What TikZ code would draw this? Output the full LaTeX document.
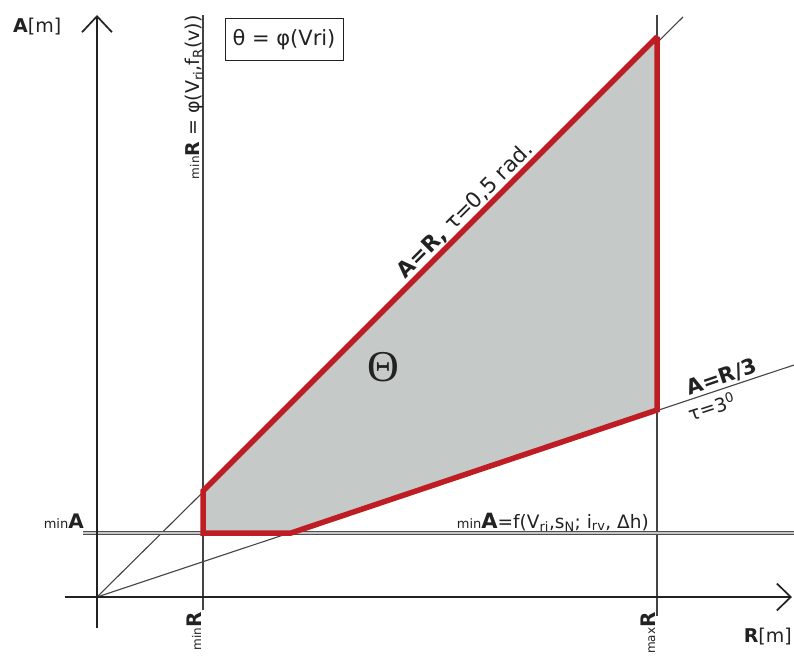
\documentclass[tikz,border=0pt]{standalone}
\usepackage{fontspec}
\setmainfont{DejaVu Sans}
\newfontfamily\serifth{Liberation Serif}
\usetikzlibrary{arrows.meta}
\definecolor{redb}{HTML}{BE1E23}
\definecolor{fillg}{HTML}{C5C9C8}
\definecolor{ink}{HTML}{222222}
\newcommand\myfs[1]{\fontsize{#1}{#1}\selectfont}
\begin{document}
\begin{tikzpicture}[x=1pt,y=-1pt,
  thinline/.style={draw=ink!85, line width=1.1pt},
  axisline/.style={draw=ink, line width=1.7pt},
  dbl/.style={draw=ink!80, line width=0.9pt, double=gray!45, double distance=1.8pt},
  region/.style={draw=redb, fill=fillg, line width=5.5pt, line join=miter, miter limit=2},
  lbl/.style={inner sep=0pt, text=ink, font=\myfs{18}},
  boxlbl/.style={draw=ink, line width=1pt, inner sep=0pt, minimum width=118pt, minimum height=42pt, text=ink, font=\myfs{21}},
  barbY/.style={-{Straight Barb[length=16pt,width=30pt,line width=1.7pt]}},
  barbX/.style={-{Straight Barb[length=14pt,width=27pt,line width=1.7pt]}},
]
\useasboundingbox[fill=white] (0,0) rectangle (794,655);
% coordinates
\coordinate (O) at (97,597);
\coordinate (Ytop) at (97,15);
\coordinate (Ybot) at (97,628);
\coordinate (Xleft) at (65,597);
\coordinate (Xright) at (792,597);
\coordinate (RminT) at (203,15);
\coordinate (RminB) at (203,610);
\coordinate (RmaxT) at (657,15);
\coordinate (RmaxB) at (657,616);
\coordinate (AminL) at (83,533);
\coordinate (AminR) at (794,533);
\coordinate (LoneEnd) at (683,17);
\coordinate (LthirdEnd) at (794,365);
\coordinate (P1) at (203,533);
\coordinate (P2) at (203,491);
\coordinate (P3) at (657,37);
\coordinate (P4) at (657,410);
\coordinate (P5) at (291,533);
% guide lines
\draw[thinline] (RminB) -- (RminT);
\draw[thinline] (RmaxB) -- (RmaxT);
\draw[thinline] (O) -- (LoneEnd);
\draw[thinline] (O) -- (LthirdEnd);
\draw[dbl] (AminL) -- (AminR);
% axes
\draw[axisline] (Ybot) -- (O);
\draw[axisline, barbY] (O) -- (Ytop);
\draw[axisline] (Xleft) -- (O);
\draw[axisline, barbX] (O) -- (Xright);
% region
\draw[region] (P1) -- (P2) -- (P3) -- (P4) -- (P5) -- cycle;
% labels
\node[lbl, anchor=base west, font=\myfs{19}] (Alab) at (13,33) {\textbf{A}[m]};
\node[lbl, anchor=base east, font=\myfs{19}] (Rlab) at (792,642) {\textbf{R}[m]};
\node[boxlbl] (thetabox) at (284,40) {θ = φ(Vri)};
\node[lbl, rotate=90, anchor=base east, font=\myfs{19}] (minRtop) at (199,15) {{\myfs{12}min}\textbf{R} = φ(V\textsubscript{ri},f\textsubscript{R}(v))};
\node[lbl, rotate=90, anchor=base east, font=\myfs{20}] (minRbot) at (201,612) {{\myfs{12}min}\textbf{R}};
\node[lbl, rotate=90, anchor=base east, font=\myfs{20}] (maxRbot) at (655,612) {{\myfs{12}max}\textbf{R}};
\node[lbl, anchor=base east, font=\myfs{20}] (minAleft) at (84,528) {{\myfs{13}min}\textbf{A}};
\node[lbl, anchor=base east, font=\myfs{18.5}] (minAright) at (649,528) {{\myfs{13}min}{\myfs{21}\textbf{A}}=f(V\textsubscript{ri},s\textsubscript{N}; i\textsubscript{rv}, Δh)};
\node[lbl, rotate=45, anchor=base, font=\myfs{21.5}] (diag) at (470,215) {\textbf{A=R,} τ=0,5 rad.};
\node[lbl, rotate=19, anchor=base, font=\myfs{21}] (third) at (724,384) {\textbf{A=R/3}};
\node[lbl, rotate=18, anchor=base, font=\myfs{19}] (tau) at (714,414) {τ=3\textsuperscript{0}};
\node[inner sep=0pt, text=ink] (Theta) at (383,367) {\serifth\myfs{44}Θ};
\end{tikzpicture}
\end{document}
